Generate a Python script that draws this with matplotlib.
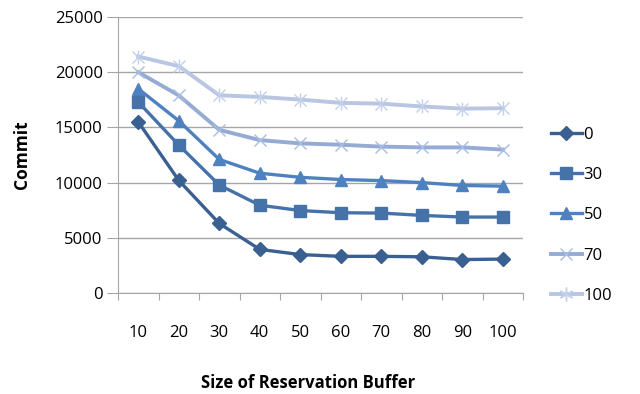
import matplotlib
matplotlib.use("Agg")
import matplotlib.pyplot as plt
from matplotlib.ticker import FixedLocator, NullFormatter, FixedFormatter
from matplotlib.lines import Line2D

plt.rcParams['font.family'] = ['Open Sans', 'DejaVu Sans']

categories = ['10', '20', '30', '40', '50', '60', '70', '80', '90', '100']
s0 = [15500, 10200, 6300, 3950, 3480, 3320, 3320, 3280, 3030, 3070]
s30 = [17300, 13400, 9780, 7950, 7470, 7270, 7240, 7030, 6880, 6880]
s50 = [18500, 15600, 12100, 10850, 10480, 10280, 10180, 10000, 9740, 9680]
s70 = [20000, 17900, 14780, 13850, 13550, 13430, 13260, 13190, 13190, 12990]
s100 = [21420, 20550, 17910, 17760, 17520, 17220, 17150, 16900, 16700, 16740]
series_names = ['0', '30', '50', '70', '100']
yticks = [0, 5000, 10000, 15000, 20000, 25000]

fig = plt.figure(figsize=(6.4, 3.94), dpi=100)
ax = fig.add_axes([118/640, 1-293/394, (523-118)/640, (293-17)/394])

x = list(range(1, len(categories)+1))
c0, c30, c50, c70, c100 = '#3A5F91', '#4672AA', '#4E81C0', '#95ABD3', '#B8C6E1'
lw = 2.4
ax.plot(x, s0, color=c0, lw=lw, marker='D', ms=7, mfc=c0, mec=c0, zorder=5)
ax.plot(x, s30, color=c30, lw=lw, marker='s', ms=9, mfc=c30, mec=c30, zorder=4)
ax.plot(x, s50, color=c50, lw=lw, marker='^', ms=9, mfc=c50, mec=c50, zorder=3)
ax.plot(x, s70, color=c70, lw=lw+0.4, marker='x', ms=9, mew=1.0, mec='#A8BDE3', zorder=2)
ax.plot(x, s100, color=c100, lw=lw+0.4, marker='x', ms=9, mew=1.0, mec='#C2D0EC', zorder=1)
ax.plot(x, s100, ls='none', marker='|', ms=10, mew=1.0, mec='#C2D0EC', zorder=1)

ax.set_xlim(0.5, len(categories)+0.5)
ax.set_ylim(0, 25000)
ax.set_yticks(yticks)
ax.set_yticklabels([str(v) for v in yticks])
ax.yaxis.grid(True, color='#A6A6A6', lw=1.0)
ax.set_axisbelow(True)

ax.xaxis.set_major_locator(FixedLocator([i+0.5 for i in range(0, len(categories)+1)]))
ax.xaxis.set_major_formatter(NullFormatter())
ax.xaxis.set_minor_locator(FixedLocator(x))
ax.xaxis.set_minor_formatter(FixedFormatter(categories))
ax.tick_params(axis='x', which='major', length=5, color='#A6A6A6', direction='out')
ax.tick_params(axis='x', which='minor', length=0, pad=23, labelsize=12)
ax.tick_params(axis='y', length=8, color='#A6A6A6', labelsize=12, pad=3)

for s in ['top', 'right']:
    ax.spines[s].set_visible(False)
for s in ['left', 'bottom']:
    ax.spines[s].set_color('#A6A6A6')

fig.text(22/640, 1-155/394, 'Commit', rotation=90, ha='center', va='center', fontsize=12.5, fontweight='bold')
fig.text(308/640, 1-383/394, 'Size of Reservation Buffer', ha='center', va='center', fontsize=12, fontweight='bold')

handles = [
    Line2D([], [], color=c0, lw=lw, marker='D', ms=7, mfc=c0, mec=c0),
    Line2D([], [], color=c30, lw=lw, marker='s', ms=9, mfc=c30, mec=c30),
    Line2D([], [], color=c50, lw=lw, marker='^', ms=9, mfc=c50, mec=c50),
    Line2D([], [], color=c70, lw=lw+0.4, marker='x', ms=9, mew=1.0, mec='#A8BDE3'),
    Line2D([], [], color=c100, lw=lw+0.4, marker=(6, 2, 0), ms=10, mew=1.0, mec='#C2D0EC'),
]
fig.legend(handles, series_names, loc='upper left', bbox_to_anchor=(551/640, 1-127/394),
           frameon=False, fontsize=12, labelspacing=1.45, handlelength=1.85, handletextpad=0.1,
           borderaxespad=0, borderpad=0)

fig.savefig('out.png', dpi=100)
